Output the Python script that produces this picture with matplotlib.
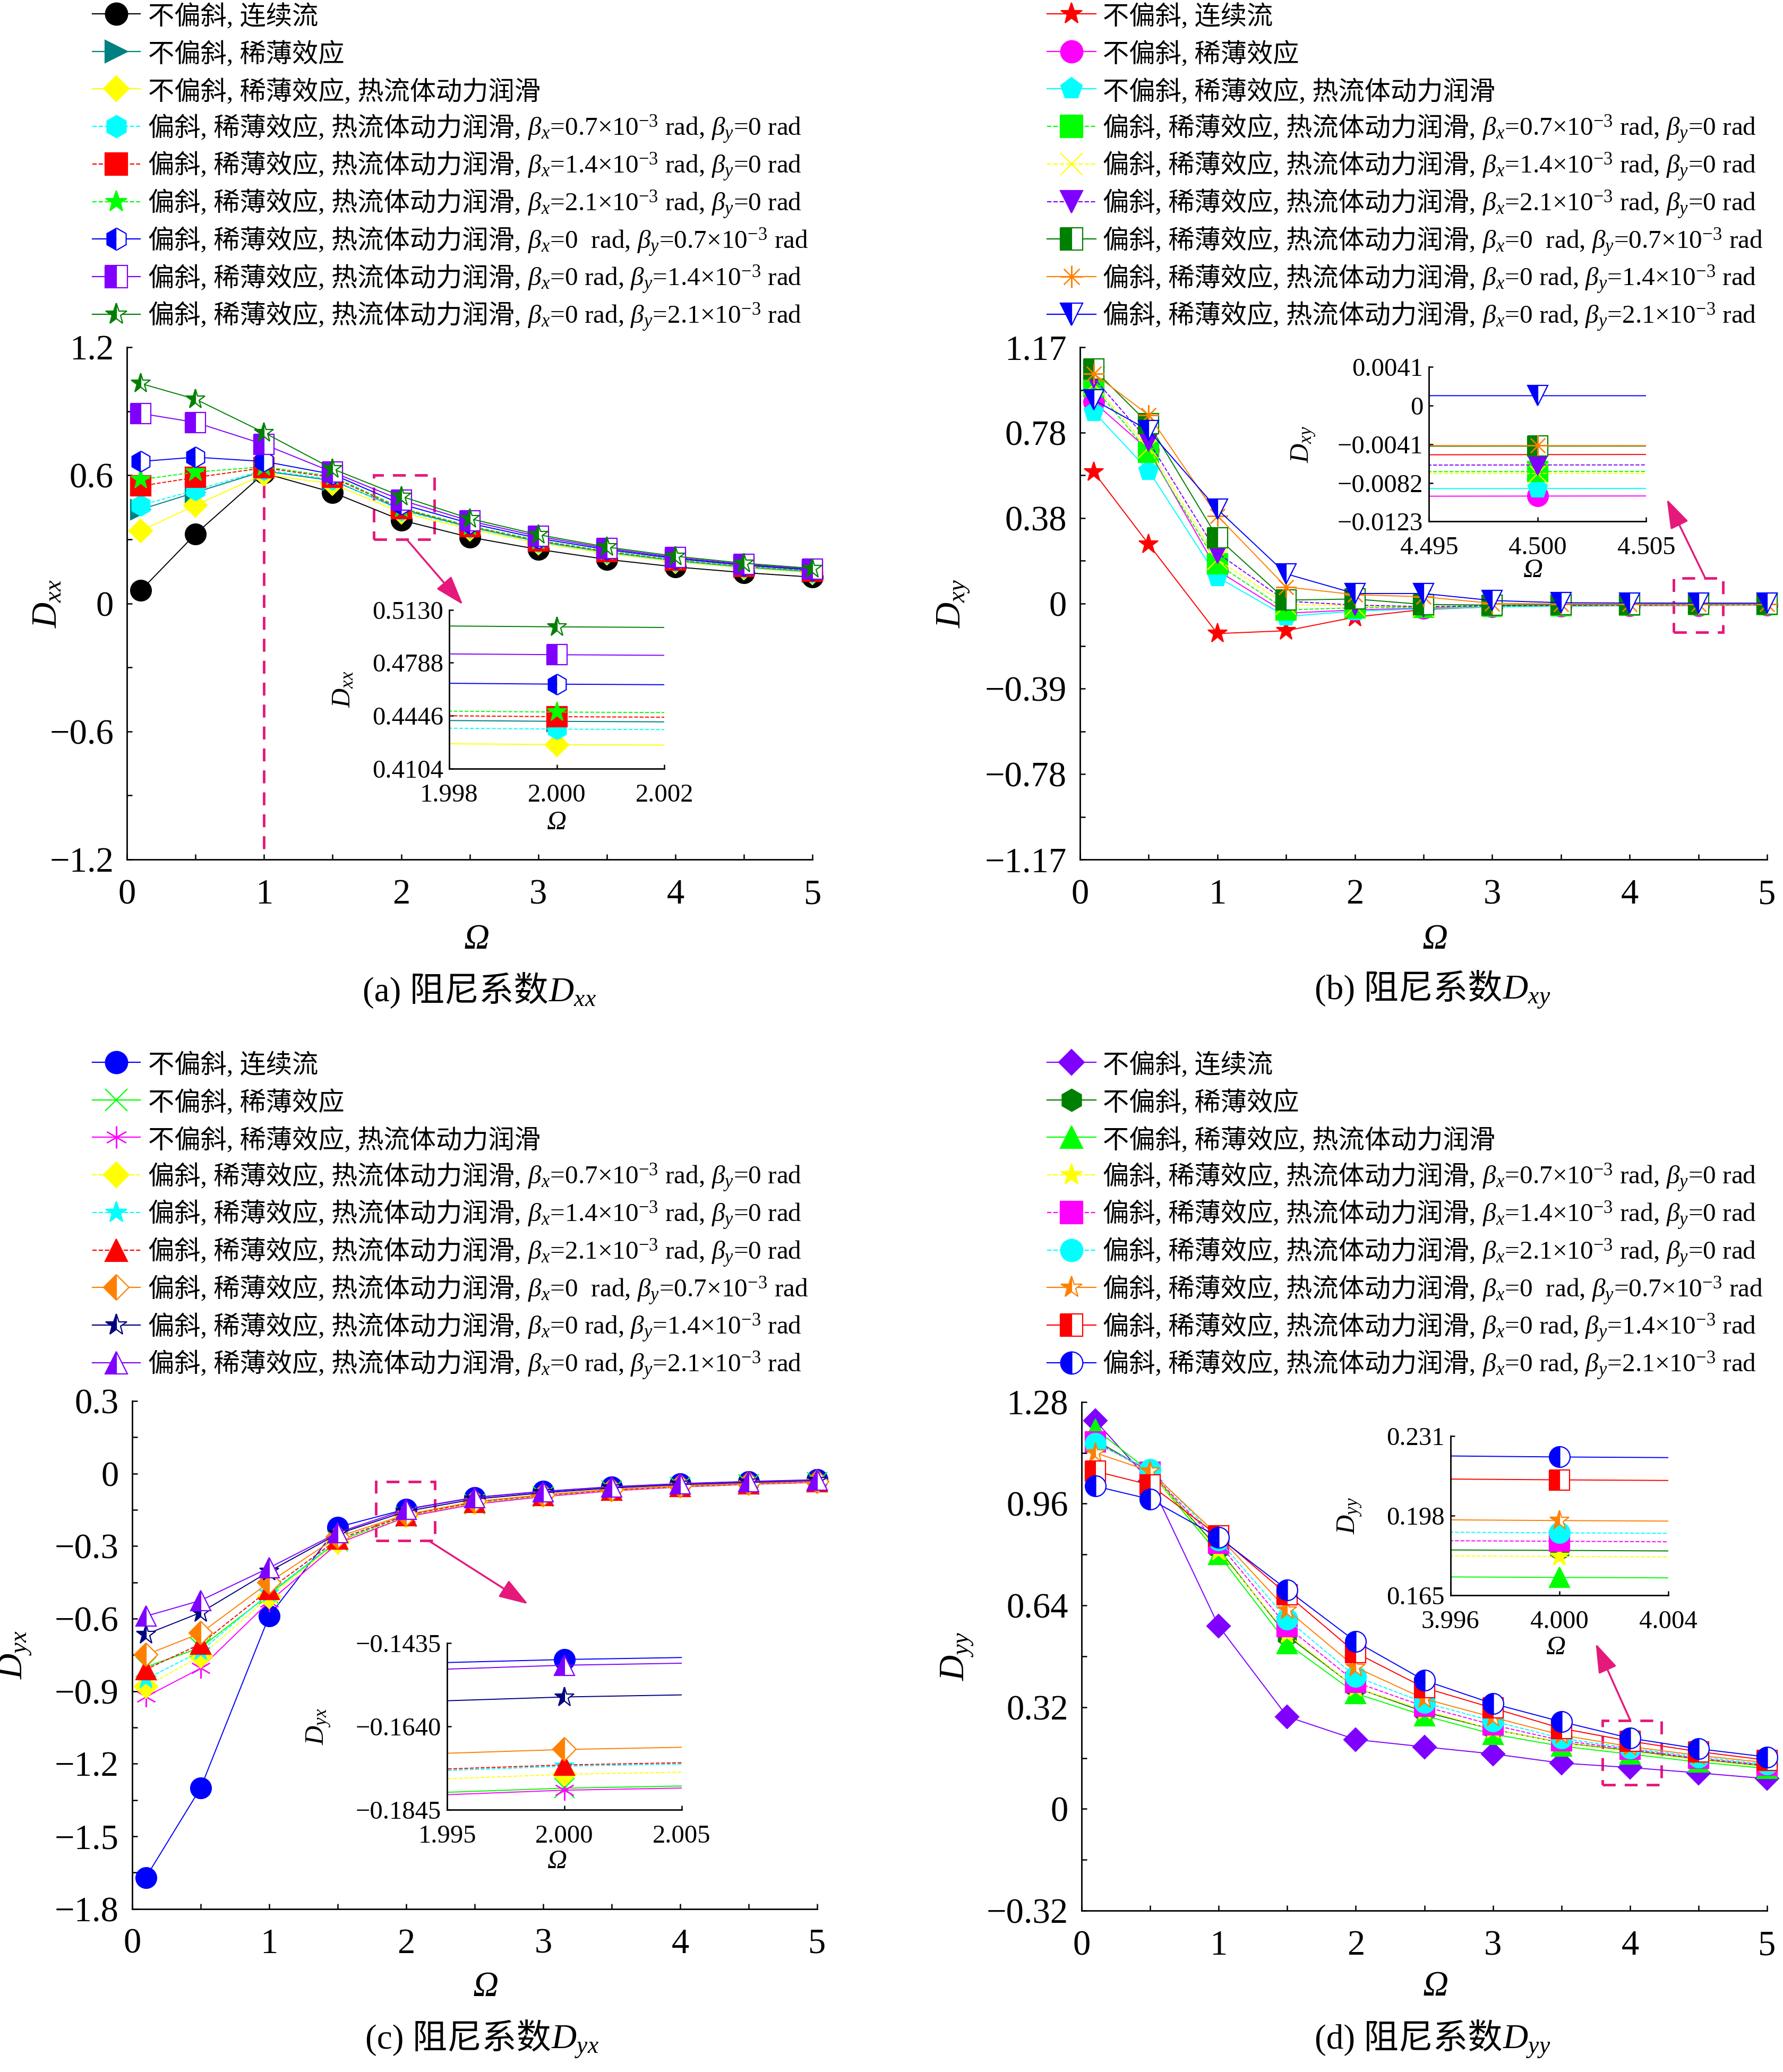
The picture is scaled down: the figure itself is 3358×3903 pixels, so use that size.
import matplotlib
matplotlib.use('Agg')
import matplotlib.pyplot as plt
from matplotlib.lines import Line2D
from matplotlib.patches import Rectangle
from matplotlib.ticker import MultipleLocator
from matplotlib.offsetbox import TextArea, HPacker, AnchoredOffsetbox

plt.rcParams['font.family'] = ['Liberation Serif', 'Noto Sans CJK SC']
plt.rcParams['mathtext.fontset'] = 'custom'
plt.rcParams['mathtext.rm'] = 'Liberation Serif'
plt.rcParams['mathtext.it'] = 'Liberation Serif:italic'
plt.rcParams['mathtext.bf'] = 'Liberation Serif:bold'
plt.rcParams['axes.unicode_minus'] = True

W, H = 3358, 3903
pink = '#E5197A'

# ---- data ----
omega = [0.1, 0.5, 1, 1.5, 2, 2.5, 3, 3.5, 4, 4.5, 5]

labels = [
    '不偏斜, 连续流',
    '不偏斜, 稀薄效应',
    '不偏斜, 稀薄效应, 热流体动力润滑',
    '偏斜, 稀薄效应, 热流体动力润滑, $\\beta_x$=0.7×10$^{-3}$ rad, $\\beta_y$=0 rad',
    '偏斜, 稀薄效应, 热流体动力润滑, $\\beta_x$=1.4×10$^{-3}$ rad, $\\beta_y$=0 rad',
    '偏斜, 稀薄效应, 热流体动力润滑, $\\beta_x$=2.1×10$^{-3}$ rad, $\\beta_y$=0 rad',
    '偏斜, 稀薄效应, 热流体动力润滑, $\\beta_x$=0  rad, $\\beta_y$=0.7×10$^{-3}$ rad',
    '偏斜, 稀薄效应, 热流体动力润滑, $\\beta_x$=0 rad, $\\beta_y$=1.4×10$^{-3}$ rad',
    '偏斜, 稀薄效应, 热流体动力润滑, $\\beta_x$=0 rad, $\\beta_y$=2.1×10$^{-3}$ rad',
]
captions = ['(a) 阻尼系数$D_{xx}$', '(b) 阻尼系数$D_{xy}$', '(c) 阻尼系数$D_{yx}$', '(d) 阻尼系数$D_{yy}$']

# (a) Dxx
dxx_c = [0.06, 0.325, 0.61, 0.52, 0.39, 0.31, 0.253, 0.206, 0.171, 0.144, 0.123]
dxx_r = [0.44, 0.52, 0.62, 0.575, 0.441, 0.358, 0.29, 0.24, 0.2, 0.17, 0.148]
dxx_t = [0.34, 0.46, 0.605, 0.56, 0.426, 0.348, 0.283, 0.234, 0.195, 0.166, 0.144]
dxx_bx07 = [0.46, 0.53, 0.625, 0.58, 0.436, 0.355, 0.288, 0.238, 0.198, 0.168, 0.146]
dxx_bx14 = [0.55, 0.59, 0.635, 0.59, 0.444, 0.36, 0.293, 0.242, 0.202, 0.172, 0.15]
dxx_bx21 = [0.58, 0.615, 0.64, 0.595, 0.447, 0.363, 0.296, 0.245, 0.204, 0.174, 0.152]
dxx_by07 = [0.665, 0.685, 0.665, 0.605, 0.465, 0.375, 0.305, 0.252, 0.21, 0.179, 0.156]
dxx_by14 = [0.89, 0.848, 0.745, 0.615, 0.484, 0.386, 0.314, 0.258, 0.215, 0.183, 0.16]
dxx_by21 = [1.03, 0.957, 0.80, 0.63, 0.502, 0.397, 0.322, 0.264, 0.221, 0.188, 0.164]

# (b) Dxy
dxy_c = [0.60, 0.27, -0.138, -0.125, -0.063, -0.028, -0.016, -0.01, -0.007, -0.0052, -0.004]
dxy_r = [0.92, 0.70, 0.15, -0.045, -0.03, -0.022, -0.016, -0.013, -0.011, -0.0096, -0.0085]
dxy_t = [0.875, 0.606, 0.12, -0.06, -0.035, -0.025, -0.017, -0.013, -0.01, -0.0088, -0.0078]
dxy_bx07 = [0.99, 0.69, 0.18, -0.03, -0.02, -0.018, -0.013, -0.01, -0.008, -0.007, -0.006]
dxy_bx14 = [1.0, 0.71, 0.20, -0.005, -0.012, -0.016, -0.012, -0.0095, -0.0082, -0.0072, -0.0063]
dxy_bx21 = [1.03, 0.74, 0.23, 0.01, -0.008, -0.015, -0.011, -0.009, -0.0075, -0.0063, -0.0055]
dxy_by07 = [1.07, 0.82, 0.30, 0.015, 0.02, -0.005, -0.008, -0.006, -0.005, -0.0043, -0.0038]
dxy_by14 = [1.05, 0.86, 0.40, 0.075, 0.04, 0.03, 0.0, -0.003, -0.004, -0.00425, -0.0038]
dxy_by21 = [0.93, 0.79, 0.43, 0.135, 0.045, 0.045, 0.013, 0.003, 0.0015, 0.00105, 0.0008]

# (c) Dyx
dyx_c = [-1.67, -1.30, -0.59, -0.222, -0.1476, -0.099, -0.074, -0.055, -0.042, -0.033, -0.026]
dyx_r = [-0.80, -0.72, -0.50, -0.28, -0.1792, -0.126, -0.095, -0.071, -0.056, -0.045, -0.036]
dyx_t = [-0.923, -0.805, -0.53, -0.29, -0.1797, -0.127, -0.096, -0.072, -0.056, -0.045, -0.037]
dyx_bx07 = [-0.88, -0.755, -0.51, -0.285, -0.1758, -0.122, -0.092, -0.069, -0.054, -0.043, -0.035]
dyx_bx14 = [-0.85, -0.735, -0.495, -0.278, -0.1738, -0.12, -0.091, -0.068, -0.053, -0.042, -0.034]
dyx_bx21 = [-0.81, -0.705, -0.48, -0.272, -0.1735, -0.119, -0.09, -0.068, -0.053, -0.042, -0.034]
dyx_by07 = [-0.75, -0.66, -0.45, -0.262, -0.1697, -0.116, -0.088, -0.066, -0.051, -0.041, -0.033]
dyx_by14 = [-0.665, -0.575, -0.405, -0.25, -0.1568, -0.106, -0.08, -0.06, -0.046, -0.037, -0.029]
dyx_by21 = [-0.59, -0.525, -0.39, -0.245, -0.149, -0.1, -0.075, -0.056, -0.043, -0.034, -0.027]

# (d) Dyy
dyy_c = [1.221, 1.03, 0.575, 0.29, 0.218, 0.195, 0.173, 0.144, 0.13, 0.113, 0.095]
dyy_r = [1.16, 1.06, 0.817, 0.544, 0.381, 0.305, 0.25, 0.208, 0.1836, 0.156, 0.134]
dyy_t = [1.195, 1.06, 0.80, 0.52, 0.363, 0.293, 0.235, 0.197, 0.1724, 0.147, 0.127]
dyy_bx07 = [1.155, 1.06, 0.811, 0.55, 0.381, 0.31, 0.25, 0.207, 0.1811, 0.154, 0.132]
dyy_bx14 = [1.155, 1.06, 0.835, 0.573, 0.398, 0.322, 0.264, 0.215, 0.1874, 0.159, 0.137]
dyy_bx21 = [1.149, 1.067, 0.846, 0.596, 0.416, 0.334, 0.276, 0.222, 0.1909, 0.163, 0.14]
dyy_by07 = [1.12, 1.062, 0.858, 0.625, 0.445, 0.346, 0.288, 0.232, 0.196, 0.168, 0.145]
dyy_by14 = [1.062, 1.019, 0.858, 0.674, 0.491, 0.381, 0.317, 0.253, 0.2129, 0.18, 0.153]
dyy_by21 = [1.015, 0.974, 0.854, 0.689, 0.526, 0.404, 0.331, 0.274, 0.2224, 0.189, 0.163]

# ---- styles (color, marker, fill, linestyle) ----
sty_a = [('black', 'o', 'full', '-'), ('#008080', '>', 'full', '-'), ('#FFFF00', 'D', 'full', '-'),
         ('#00FFFF', 'h', 'full', '--'), ('#FF0000', 's', 'full', '--'), ('#00FF00', '*', 'full', '--'),
         ('#0000FF', 'h', 'left', '-'), ('#8000FF', 's', 'left', '-'), ('#008000', '*', 'left', '-')]
sty_b = [('#FF0000', '*', 'full', '-'), ('#FF00FF', 'o', 'full', '-'), ('#00FFFF', 'p', 'full', '-'),
         ('#00FF00', 's', 'full', '--'), ('#FFFF00', 'x', 'full', '--'), ('#8000FF', 'v', 'full', '--'),
         ('#008000', 's', 'left', '-'), ('#FF8000', (8, 2, 0), 'full', '-'), ('#0000FF', 'v', 'left', '-')]
sty_c = [('#0000FF', 'o', 'full', '-'), ('#00FF00', 'x', 'full', '-'), ('#FF00FF', (6, 2, 0), 'full', '-'),
         ('#FFFF00', 'D', 'full', '--'), ('#00FFFF', '*', 'full', '--'), ('#FF0000', '^', 'full', '--'),
         ('#FF8000', 'D', 'left', '-'), ('#000080', '*', 'left', '-'), ('#8000FF', '^', 'left', '-')]
sty_d = [('#8000FF', 'D', 'full', '-'), ('#008000', 'h', 'full', '-'), ('#00FF00', '^', 'full', '-'),
         ('#FFFF00', '*', 'full', '--'), ('#FF00FF', 's', 'full', '--'), ('#00FFFF', 'o', 'full', '--'),
         ('#FF8000', '*', 'left', '-'), ('#FF0000', 's', 'left', '-'), ('#0000FF', 'o', 'left', '-')]


def mstyle(s, ms):
    c, m, fs, ls = s
    kw = dict(marker=m, ms=ms, mec=c, mfc=c, mew=1.6, fillstyle=fs)
    if fs != 'full':
        kw['markerfacecoloralt'] = 'white'
    if m == 'D':
        kw['ms'] = ms * 0.8
    return kw


def draw(ax, ys, sty, ms=28, clip=True):
    for y, s in zip(ys, sty):
        ax.plot(omega, y, color=s[0], ls=s[3], lw=1.4, clip_on=clip, **mstyle(s, ms))


def setup(ax, ylim, yt, ytl, ymin, ylab, ylx, oxy):
    ax.set_xlim(0, 5)
    ax.set_ylim(ylim)
    ax.set_xticks([0, 1, 2, 3, 4, 5], ['0', '1', '2', '3', '4', '5'])
    ax.xaxis.set_minor_locator(MultipleLocator(0.5))
    ax.set_yticks(yt, ytl)
    ax.yaxis.set_minor_locator(MultipleLocator(ymin))
    for sp in ['top', 'right']:
        ax.spines[sp].set_visible(False)
    for sp in ['left', 'bottom']:
        ax.spines[sp].set_linewidth(2)
    ax.tick_params(which='both', direction='in', length=7, width=1.8, labelsize=48)
    ax.tick_params(axis='x', pad=26)
    ax.tick_params(axis='y', pad=18)
    ax.set_ylabel(ylab, fontsize=48)
    ax.yaxis.set_label_coords(ylx, 0.5)
    ax.set_xlabel('Ω', fontsize=48, fontstyle='italic')
    ax.xaxis.set_label_coords(oxy[0], oxy[1])
    ax.xaxis.label.set_va('center')
    ax.yaxis.label.set_va('center')


def inset(ax, bounds, ys, sty, xlim, xtl, ylim, ytl, ylab, ylx, oxy):
    ins = ax.inset_axes(bounds, transform=ax.transData)
    draw(ins, ys, sty, ms=28)
    ins.set_xlim(xlim)
    ins.set_xticks([xlim[0], (xlim[0] + xlim[1]) / 2, xlim[1]], xtl)
    ins.set_yticks([float(t.replace('−', '-')) for t in ytl], ytl)
    ins.set_ylim(ylim)
    for sp in ['top', 'right']:
        ins.spines[sp].set_visible(False)
    for sp in ['left', 'bottom']:
        ins.spines[sp].set_linewidth(2)
    ins.tick_params(direction='in', length=6, width=1.8, labelsize=35)
    ins.tick_params(axis='x', pad=20)
    ins.tick_params(axis='y', pad=8)
    ins.set_ylabel(ylab, fontsize=36)
    ins.yaxis.set_label_coords(ylx, 0.5)
    ins.set_xlabel('Ω', fontsize=37, fontstyle='italic')
    ins.xaxis.set_label_coords(oxy[0], oxy[1])
    ins.xaxis.label.set_va('center')
    ins.yaxis.label.set_va('center')
    return ins


def mark(ax, box, start, tip):
    ax.add_patch(Rectangle((box[0], box[1]), box[2], box[3], fill=False, ec=pink, lw=3.5,
                           ls=(0, (5, 3.5)), clip_on=False))
    ax.annotate('', xy=tip, xytext=start,
                arrowprops=dict(arrowstyle='-|>,head_length=0.9,head_width=0.3', color=pink,
                                lw=2.5, mutation_scale=38, shrinkA=0, shrinkB=0))


def mixed_text(fig, x, y, text, fontsize, loc):
    # CJK part as plain text, formula part as mathtext, packed on one baseline
    i = text.find('$')
    parts = [text] if i <= 0 else [text[:i], text[i:]]
    boxes = [TextArea(p, textprops=dict(fontsize=fontsize)) for p in parts]
    pk = HPacker(children=boxes, align='baseline', pad=0, sep=0)
    ab = AnchoredOffsetbox(loc=loc, child=pk, bbox_to_anchor=(x, y), bbox_transform=fig.transFigure,
                           frameon=False, pad=0, borderpad=0)
    fig.add_artist(ab)


def legend_rows(fig, sty, x0, x1, xt, ytop):
    for i, (s, lab) in enumerate(zip(sty, labels)):
        yf = 1 - (ytop + 70.7 * i) / H
        fig.add_artist(Line2D([x0 / W, x1 / W], [yf, yf], transform=fig.transFigure,
                              color=s[0], ls=s[3], lw=1.6))
        fig.add_artist(Line2D([(x0 + x1) / 2 / W], [yf], transform=fig.transFigure,
                              ls='none', **mstyle(s, 30)))
        mixed_text(fig, xt / W, 1 - (ytop + 6 + 70.7 * i) / H, lab, 35.5, 'center left')


fig = plt.figure(figsize=(W / 100, H / 100), dpi=100)

ax_a = fig.add_axes([0.0712, 0.5852, 0.3845, 0.2472])
ax_b = fig.add_axes([0.6057, 0.5852, 0.3854, 0.2472])
ax_c = fig.add_axes([0.0741, 0.0787, 0.3842, 0.2452])
ax_d = fig.add_axes([0.6066, 0.0779, 0.3845, 0.2455])

ys_a = [dxx_c, dxx_r, dxx_t, dxx_bx07, dxx_bx14, dxx_bx21, dxx_by07, dxx_by14, dxx_by21]
ys_b = [dxy_c, dxy_r, dxy_t, dxy_bx07, dxy_bx14, dxy_bx21, dxy_by07, dxy_by14, dxy_by21]
ys_c = [dyx_c, dyx_r, dyx_t, dyx_bx07, dyx_bx14, dyx_bx21, dyx_by07, dyx_by14, dyx_by21]
ys_d = [dyy_c, dyy_r, dyy_t, dyy_bx07, dyy_bx14, dyy_bx21, dyy_by07, dyy_by14, dyy_by21]

# (a)
ax_a.vlines(1, -1.15, 0.57, colors=pink, lw=3.5, ls=(0, (5, 3.5)))
draw(ax_a, ys_a, sty_a, clip=False)
setup(ax_a, (-1.2, 1.2), [-1.2, -0.6, 0, 0.6, 1.2], ['−1.2', '−0.6', '0', '0.6', '1.2'], 0.3,
      '$D_{xx}$', -0.115, (0.51, -0.157))
inset(ax_a, [2.35, -0.775, 1.57, 0.745], ys_a, sty_a, (1.998, 2.002), ['1.998', '2.000', '2.002'],
      (0.4104, 0.5130), ['0.4104', '0.4446', '0.4788', '0.5130'], '$D_{xx}$', -0.49, (0.5, -0.34))
mark(ax_a, (1.8, 0.30, 0.44, 0.30), (2.04, 0.30), (2.45, -0.006))

# (b)
draw(ax_b, ys_b, sty_b, clip=False)
setup(ax_b, (-1.17, 1.17), [-1.17, -0.78, -0.39, 0, 0.39, 0.78, 1.17],
      ['−1.17', '−0.78', '−0.39', '0', '0.38', '0.78', '1.17'], 0.195, '$D_{xy}$', -0.184, (0.517, -0.157))
inset(ax_b, [2.54, 0.374, 1.58, 0.706], ys_b, sty_b, (4.495, 4.505), ['4.495', '4.500', '4.505'],
      (-0.0123, 0.0041), ['−0.0123', '−0.0082', '−0.0041', '0', '0.0041'], '$D_{xy}$', -0.575, (0.48, -0.316))
mark(ax_b, (4.32, -0.133, 0.36, 0.248), (4.55, 0.115), (4.27, 0.476))

# (c)
draw(ax_c, ys_c, sty_c, clip=False)
setup(ax_c, (-1.8, 0.3), [-1.8, -1.5, -1.2, -0.9, -0.6, -0.3, 0, 0.3],
      ['−1.8', '−1.5', '−1.2', '−0.9', '−0.6', '−0.3', '0', '0.3'], 0.15, '$D_{yx}$', -0.17, (0.516, -0.154))
inset(ax_c, [2.30, -1.39, 1.71, 0.69], ys_c, sty_c, (1.995, 2.005), ['1.995', '2.000', '2.005'],
      (-0.1845, -0.1435), ['−0.1845', '−0.1640', '−0.1435'], '$D_{yx}$', -0.548, (0.47, -0.31))
mark(ax_c, (1.78, -0.278, 0.43, 0.245), (2.17, -0.28), (2.89, -0.54))

# (d)
draw(ax_d, ys_d, sty_d, clip=False)
setup(ax_d, (-0.32, 1.28), [-0.32, 0, 0.32, 0.64, 0.96, 1.28],
      ['−0.32', '0', '0.32', '0.64', '0.96', '1.28'], 0.16, '$D_{yy}$', -0.181, (0.516, -0.15))
inset(ax_d, [2.69, 0.672, 1.59, 0.50], ys_d, sty_d, (3.996, 4.004), ['3.996', '4.000', '4.004'],
      (0.165, 0.231), ['0.165', '0.198', '0.231'], '$D_{yy}$', -0.46, (0.485, -0.33))
mark(ax_d, (3.80, 0.075, 0.43, 0.203), (4.0, 0.28), (3.75, 0.52))

# legends
legend_rows(fig, sty_a, 174, 264, 279, 26)
legend_rows(fig, sty_b, 1972, 2064, 2077, 26)
legend_rows(fig, sty_c, 174, 264, 279, 2001)
legend_rows(fig, sty_d, 1972, 2064, 2077, 2001)

# captions
mixed_text(fig, 903 / W, 1 - 1865 / H, captions[0], 47, 'center')
mixed_text(fig, 2698 / W, 1 - 1865 / H, captions[1], 47, 'center')
mixed_text(fig, 908 / W, 1 - 3842 / H, captions[2], 47, 'center')
mixed_text(fig, 2698 / W, 1 - 3842 / H, captions[3], 47, 'center')

fig.savefig('out.png', dpi=100)
